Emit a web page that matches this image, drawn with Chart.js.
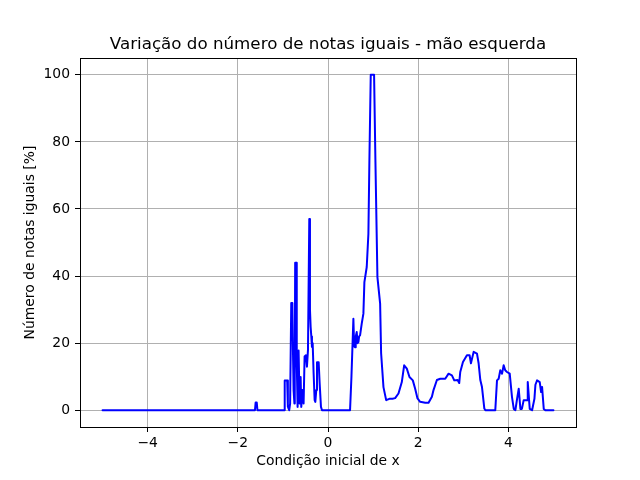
<!DOCTYPE html>
<html>
<head>
<meta charset="utf-8">
<script src="https://cdn.jsdelivr.net/npm/chart.js@4.4.1/dist/chart.umd.min.js"></script>
<style>
  body { margin: 0; background: #fff; }
  canvas { display: block; }
</style>
</head>
<body>
<canvas id="notasChart" width="640" height="480"></canvas>
<script>
// condicao inicial de x (eixo x) e numero de notas iguais em % (eixo y)
const xVals = [
  -5, -1.62, -1.605, -1.58, -1.565,
  -0.97, -0.96, -0.905, -0.89, -0.86, -0.84, -0.825, -0.815, -0.79, -0.775, -0.763,
  -0.745, -0.737, -0.728, -0.705, -0.697, -0.689, -0.674, -0.652, -0.63, -0.607,
  -0.593, -0.563, -0.541, -0.519, -0.489, -0.467, -0.444, -0.415, -0.4, -0.385,
  -0.37, -0.356, -0.34, -0.319, -0.296, -0.281, -0.26, -0.244, -0.207, -0.185,
  -0.156, -0.133,
  0.489, 0.52, 0.535, 0.563, 0.58, 0.6, 0.615, 0.637, 0.655, 0.674, 0.69, 0.711,
  0.748, 0.785, 0.807, 0.859, 0.896, 0.918, 0.948, 1.022, 1.052, 1.096, 1.156,
  1.178, 1.23, 1.29, 1.36, 1.43, 1.489,
  1.563, 1.637, 1.689, 1.748, 1.807, 1.881, 1.933, 1.985, 2.044, 2.156, 2.23,
  2.304, 2.34, 2.415, 2.49, 2.6, 2.674, 2.748, 2.8, 2.874, 2.91, 2.933, 2.993,
  3.081, 3.14, 3.17, 3.23, 3.304, 3.34, 3.378, 3.415, 3.467, 3.49, 3.71,
  3.748, 3.785, 3.82, 3.86, 3.896, 3.93, 3.97, 4.03, 4.08, 4.12, 4.156, 4.193,
  4.23, 4.267, 4.3, 4.34, 4.415, 4.43, 4.474, 4.526, 4.578, 4.6, 4.637, 4.696,
  4.726, 4.748, 4.785, 4.82, 5.0
];
const notasIguais = [
  0, 0, 2.3, 2.3, 0,
  0, 8.9, 8.9, 1, 0, 2, 2, 32, 32, 16, 6,
  2, 10, 44, 44, 14, 14, 1, 17.8, 2, 9.9,
  1, 6, 2, 16, 16.4, 13, 18, 57, 30, 24.8,
  22, 18.9, 20, 11, 3, 2.5, 6, 14.3, 14.3, 8,
  1, 0,
  0, 10, 16, 27.3, 19, 18.8, 22, 23.3, 20, 20.3, 22, 22.3,
  25.8, 28.8, 38.2, 42.7, 52.6, 74.4, 100, 100, 74, 39.7, 31.8,
  17, 6.9, 3, 3.4, 3.4, 3.6,
  5, 8.4, 13.4, 12.4, 9.9, 8.9, 6.4, 3.5, 2.5, 2.2, 2.2,
  4, 6, 9, 9.4, 9.4, 10.9, 10.4, 8.9, 9, 8.1, 11.4, 14.4,
  16.4, 16.4, 14, 17.4, 16.9, 14, 9, 6.9, 0.5, 0, 0,
  8.9, 9.4, 11.9, 10.9, 13.4, 11.9, 11.4, 10.9, 4, 0.4, 0, 3.4,
  6.4, 0.4, 0.4, 3, 3, 8.4, 0.4, 0, 3.4, 7.6, 8.9, 8.4,
  5.4, 6.9, 0.4, 0, 0
];
const xTicks = [-4, -2, 0, 2, 4];
const yTicks = [0, 20, 40, 60, 80, 100];

const fonte = 'DejaVu Sans';

// moldura em volta da area do grafico (estilo matplotlib)
const moldura = {
  id: 'moldura',
  afterDraw(chart) {
    const a = chart.chartArea;
    const c = chart.ctx;
    c.save();
    c.strokeStyle = '#000';
    c.lineWidth = 1;
    c.strokeRect(Math.round(a.left) + 0.5, Math.round(a.top) + 0.5,
      Math.round(a.right - a.left), Math.round(a.bottom - a.top));
    c.restore();
  }
};

const ctx = document.getElementById('notasChart').getContext('2d');
const pontos = xVals.map((x, i) => ({ x: x, y: notasIguais[i] }));

const notasChart = new Chart(ctx, {
  type: 'line',
  data: {
    datasets: [{
      data: pontos,
      borderColor: '#0000ff',
      borderWidth: 2,
      borderJoinStyle: 'round',
      borderCapStyle: 'round',
      pointRadius: 0,
      tension: 0,
      fill: false,
    }],
  },
  plugins: [moldura],
  options: {
    responsive: false,
    animation: false,
    layout: { padding: { left: 0, right: 64, top: 0, bottom: 0 } },
    plugins: {
      legend: { display: false },
      tooltip: { enabled: false },
      title: {
        display: true,
        fullSize: false,
        text: 'Variação do número de notas iguais - mão esquerda',
        color: '#000',
        font: { family: fonte, size: 16.7, weight: 'normal' },
        padding: { top: 35, bottom: 3 },
      },
    },
    scales: {
      x: {
        type: 'linear',
        min: -5.5,
        max: 5.5,
        afterBuildTicks: (s) => { s.ticks = xTicks.map(v => ({ value: v })); },
        afterFit: (s) => { s.height = 53; },
        grid: { color: '#b0b0b0', lineWidth: 1, tickLength: 5, tickColor: '#000', tickWidth: 1 },
        border: { color: '#000', width: 1 },
        ticks: {
          color: '#000', padding: 3, maxRotation: 0,
          font: { family: fonte, size: 13.9 },
          callback: (v) => String(v).replace('-', '\u2212'),
        },
        title: {
          display: true, text: 'Condição inicial de x', color: '#000',
          font: { family: fonte, size: 13.9 },
          padding: { top: 0, bottom: 10 },
        },
      },
      y: {
        type: 'linear',
        min: -5,
        max: 105,
        afterBuildTicks: (s) => { s.ticks = yTicks.map(v => ({ value: v })); },
        afterFit: (s) => { s.width = 80; },
        grid: { color: '#b0b0b0', lineWidth: 1, tickLength: 5, tickColor: '#000', tickWidth: 1 },
        border: { color: '#000', width: 1 },
        ticks: {
          color: '#000', padding: 5,
          font: { family: fonte, size: 13.9 },
        },
        title: {
          display: true, text: 'Número de notas iguais [%]', color: '#000',
          font: { family: fonte, size: 13.9 },
          padding: { top: 22, bottom: 0 },
        },
      },
    },
  },
});
</script>
</body>
</html>
